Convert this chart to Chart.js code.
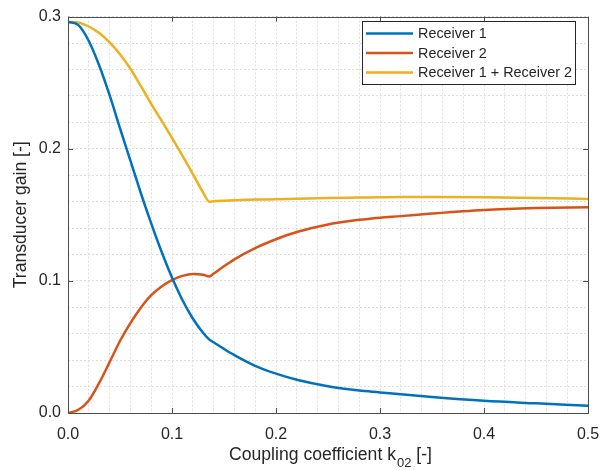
<!DOCTYPE html>
<html>
<head>
<meta charset="utf-8">
<script src="https://cdn.jsdelivr.net/npm/chart.js@4"></script>
<style>
  html, body { margin: 0; padding: 0; background: #fff; }
  #wrap { width: 616px; height: 470px; }
</style>
</head>
<body>
<div id="wrap"><canvas id="gainChart" width="616" height="470"></canvas></div>
<script>
// coupling coefficient k02
const kValues = [0, 0.01, 0.02, 0.03, 0.04, 0.05, 0.06, 0.07, 0.08, 0.09, 0.1, 0.11, 0.12, 0.13, 0.136,
  0.14, 0.15, 0.16, 0.18, 0.2, 0.22, 0.25, 0.28, 0.3, 0.32, 0.35, 0.4, 0.45, 0.5];

const receiver1 = [0.296, 0.2935, 0.2815, 0.263, 0.2405, 0.2155, 0.191, 0.1665, 0.1435, 0.122, 0.1025, 0.0855, 0.0715, 0.0605, 0.0555,
  0.0535, 0.0485, 0.0438, 0.0357, 0.0298, 0.0252, 0.0203, 0.017, 0.0156, 0.0141, 0.0121, 0.0093, 0.0073, 0.0054];

const receiver2 = [0, 0.0025, 0.0095, 0.0228, 0.0385, 0.0545, 0.068, 0.0797, 0.0892, 0.0958, 0.1006, 0.1038, 0.1052, 0.1046, 0.1033,
  0.1055, 0.111, 0.1163, 0.1248, 0.1315, 0.137, 0.1427, 0.1462, 0.1478, 0.149, 0.151, 0.1537, 0.1551, 0.1558];

const receiverSum = [0.296, 0.2955, 0.2925, 0.2875, 0.2805, 0.2715, 0.2605, 0.2475, 0.234, 0.2212, 0.2082, 0.1948, 0.181, 0.1668, 0.1598,
  0.1603, 0.1607, 0.161, 0.1615, 0.1618, 0.1622, 0.1627, 0.163, 0.1632, 0.1634, 0.1635, 0.1633, 0.1628, 0.162];

const xMajorTicks = [0, 0.1, 0.2, 0.3, 0.4, 0.5];
const yMajorTicks = [0, 0.1, 0.2, 0.3];

const FONT = '"Liberation Sans", Arial, Helvetica, sans-serif';
const TEXT = '#262626';

function toPoints(ys) {
  return kValues.map((k, i) => ({ x: k, y: ys[i] }));
}

function isMajor(v) {
  return Math.abs(v * 10 - Math.round(v * 10)) < 1e-6;
}

// inward ticks on all 4 sides + box, like matlab
const boxTicks = {
  id: 'boxTicks',
  afterDatasetsDraw(chart) {
    const { ctx, chartArea: a, scales } = chart;
    ctx.save();
    ctx.strokeStyle = '#4d4d4d';
    ctx.lineWidth = 1;
    ctx.beginPath();
    xMajorTicks.forEach(v => {
      const px = Math.round(scales.x.getPixelForValue(v)) + 0.5;
      ctx.moveTo(px, a.bottom); ctx.lineTo(px, a.bottom - 5);
      ctx.moveTo(px, a.top); ctx.lineTo(px, a.top + 5);
    });
    yMajorTicks.forEach(v => {
      const py = Math.round(scales.y.getPixelForValue(v)) + 0.5;
      ctx.moveTo(a.left, py); ctx.lineTo(a.left + 5, py);
      ctx.moveTo(a.right, py); ctx.lineTo(a.right - 5, py);
    });
    ctx.stroke();
    ctx.strokeRect(Math.round(a.left) + 0.5, Math.round(a.top) + 0.5,
      Math.round(a.right - a.left), Math.round(a.bottom - a.top));
    ctx.restore();
  }
};

// legend box inside the axes (north east)
const boxLegend = {
  id: 'boxLegend',
  afterDraw(chart) {
    const ctx = chart.ctx;
    const x0 = 362, y0 = 21, w = 213, h = 63;
    ctx.save();
    ctx.fillStyle = '#fff';
    ctx.fillRect(x0, y0, w, h);
    ctx.strokeStyle = '#262626';
    ctx.lineWidth = 1;
    ctx.strokeRect(x0 + 0.5, y0 + 0.5, w, h);
    ctx.font = '14.4px ' + FONT;
    ctx.textBaseline = 'middle';
    chart.data.datasets.forEach((ds, i) => {
      const y = y0 + 12.5 + i * 19.5;
      ctx.strokeStyle = ds.borderColor;
      ctx.lineWidth = 2.5;
      ctx.beginPath();
      ctx.moveTo(x0 + 4, y); ctx.lineTo(x0 + 51, y);
      ctx.stroke();
      ctx.fillStyle = TEXT;
      ctx.fillText(ds.label, x0 + 56, y + 1);
    });
    ctx.restore();
  }
};

// x label with subscript
const xLabel = {
  id: 'xLabel',
  afterDraw(chart) {
    const ctx = chart.ctx;
    const a = chart.chartArea;
    const p1 = 'Coupling coefficient k', sub = '02', p2 = ' [-]';
    const big = '17.6px ' + FONT, small = '13px ' + FONT;
    ctx.save();
    ctx.fillStyle = TEXT;
    ctx.textBaseline = 'alphabetic';
    ctx.font = big;
    const w1 = ctx.measureText(p1).width, w3 = ctx.measureText(p2).width;
    ctx.font = small;
    const w2 = ctx.measureText(sub).width;
    const x = (a.left + a.right) / 2 + 2 - (w1 + w2 + w3) / 2;
    const base = 460;
    ctx.font = big;
    ctx.fillText(p1, x, base);
    ctx.font = small;
    ctx.fillText(sub, x + w1 + 1, base + 7);
    ctx.font = big;
    ctx.fillText(p2, x + w1 + w2 + 1, base);
    ctx.restore();
  }
};

function lineSet(label, ys, color) {
  return {
    label: label,
    data: toPoints(ys),
    borderColor: color,
    backgroundColor: color,
    borderWidth: 2.5,
    pointRadius: 0,
    cubicInterpolationMode: 'monotone',
    fill: false
  };
}

const gridStyle = {
  color: '#dedede',
  lineWidth: 1,
  drawTicks: false
};

new Chart(document.getElementById('gainChart'), {
  type: 'line',
  data: {
    datasets: [
      lineSet('Receiver 1', receiver1, '#0072BD'),
      lineSet('Receiver 2', receiver2, '#D95319'),
      lineSet('Receiver 1 + Receiver 2', receiverSum, '#EDB120')
    ]
  },
  options: {
    responsive: false,
    animation: false,
    layout: { padding: { top: 8, right: 28, left: 0, bottom: 0 } },
    plugins: {
      legend: { display: false },
      tooltip: { enabled: false }
    },
    scales: {
      x: {
        type: 'linear',
        min: 0,
        max: 0.5,
        grid: gridStyle,
        border: { display: false, dash: [2, 2] },
        afterFit: s => { s.height = 57; },
        ticks: {
          stepSize: 0.02,
          autoSkip: false,
          maxRotation: 0,
          padding: 12,
          color: TEXT,
          font: { family: FONT, size: 16 },
          callback: v => isMajor(v) ? v.toFixed(1) : ''
        }
      },
      y: {
        type: 'linear',
        min: 0,
        max: 0.3,
        grid: gridStyle,
        border: { display: false, dash: [2, 2] },
        afterFit: s => { s.width = 68; },
        title: {
          display: true,
          text: 'Transducer gain [-]',
          color: TEXT,
          font: { family: FONT, size: 17.6 },
          padding: { top: 11, bottom: 0 }
        },
        ticks: {
          stepSize: 0.02,
          autoSkip: false,
          padding: 7,
          color: TEXT,
          font: { family: FONT, size: 16 },
          callback: v => isMajor(v) ? v.toFixed(1) : ''
        }
      }
    }
  },
  plugins: [boxTicks, boxLegend, xLabel]
});
</script>
</body>
</html>
